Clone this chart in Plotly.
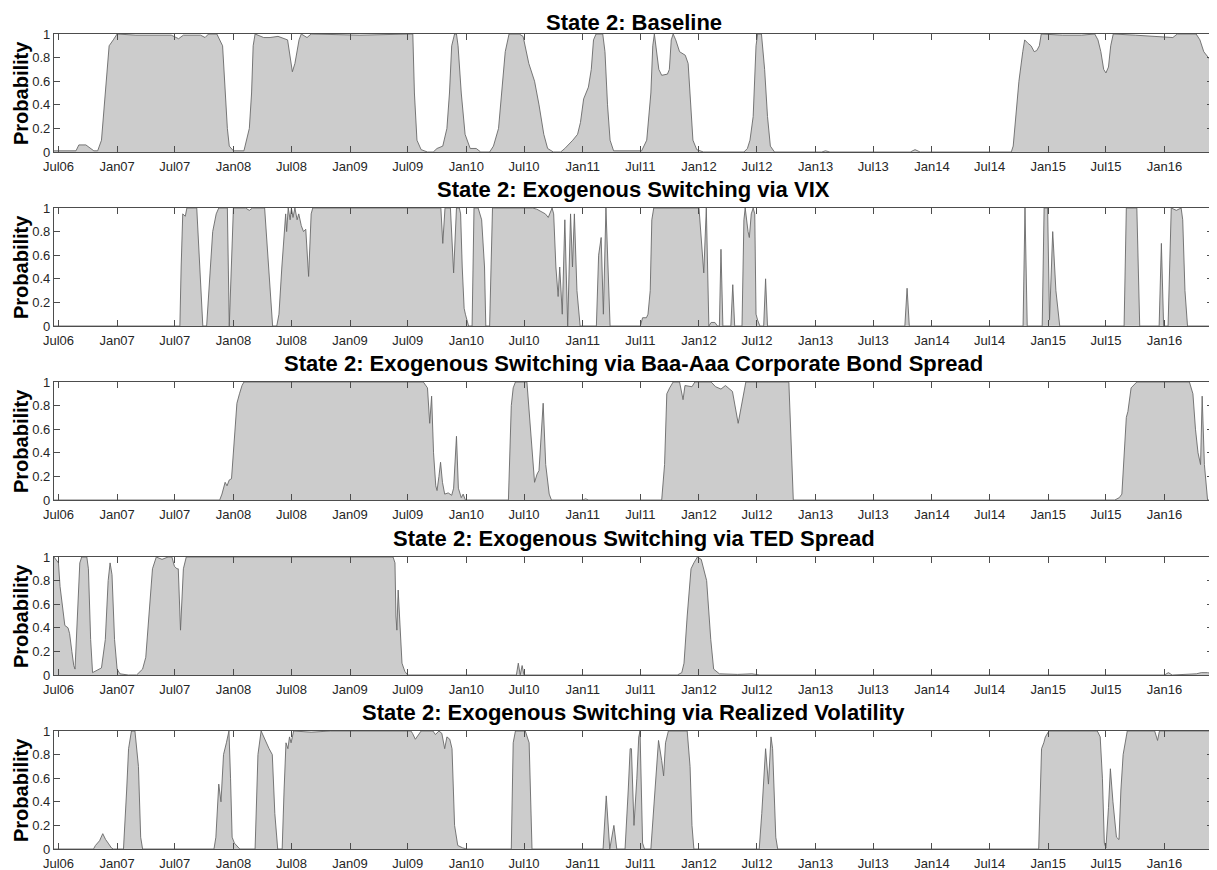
import plotly.graph_objects as go

# ---------------- data ----------------
tick_dates = ["2006-07-01", "2007-01-01", "2007-07-01", "2008-01-01", "2008-07-01",
              "2009-01-01", "2009-07-01", "2010-01-01", "2010-07-01", "2011-01-01",
              "2011-07-01", "2012-01-01", "2012-07-01", "2013-01-01", "2013-07-01",
              "2014-01-01", "2014-07-01", "2015-01-01", "2015-07-01", "2016-01-01"]
tick_labels = ["Jul06", "Jan07", "Jul07", "Jan08", "Jul08", "Jan09", "Jul09", "Jan10",
               "Jul10", "Jan11", "Jul11", "Jan12", "Jul12", "Jan13", "Jul13", "Jan14",
               "Jul14", "Jan15", "Jul15", "Jan16"]
prob_ticks = [0, 0.2, 0.4, 0.6, 0.8, 1]
prob_labels = ["0", "0.2", "0.4", "0.6", "0.8", "1"]
date_range = ["2006-06-17", "2016-06-01"]

titles = ["State 2: Baseline",
          "State 2: Exogenous Switching via VIX",
          "State 2: Exogenous Switching via Baa-Aaa Corporate Bond Spread",
          "State 2: Exogenous Switching via TED Spread",
          "State 2: Exogenous Switching via Realized Volatility"]
y_label = "Probability"

baseline = [
    ("2006-06-17", 0.01), ("2006-08-25", 0.01), ("2006-09-03", 0.06), ("2006-09-25", 0.06),
    ("2006-10-20", 0.01), ("2006-11-01", 0.01), ("2006-11-13", 0.1), ("2006-11-22", 0.4),
    ("2006-12-01", 0.75), ("2006-12-07", 0.9), ("2006-12-20", 0.95), ("2007-01-01", 1.0),
    ("2007-03-01", 0.99), ("2007-06-20", 0.99), ("2007-07-13", 0.96), ("2007-07-28", 0.99),
    ("2007-09-20", 0.99), ("2007-10-04", 0.97), ("2007-10-15", 1.0), ("2007-11-10", 1.0),
    ("2007-11-28", 0.9), ("2007-12-07", 0.5), ("2007-12-13", 0.2), ("2007-12-19", 0.05),
    ("2008-01-01", 0.01), ("2008-02-03", 0.01), ("2008-02-10", 0.1), ("2008-02-20", 0.2),
    ("2008-02-27", 0.5), ("2008-03-03", 0.9), ("2008-03-09", 1.0), ("2008-04-05", 0.97),
    ("2008-04-25", 0.97), ("2008-05-20", 0.98), ("2008-06-19", 0.95), ("2008-06-26", 0.8),
    ("2008-07-04", 0.68), ("2008-07-12", 0.75), ("2008-07-25", 0.95), ("2008-08-01", 1.0),
    ("2008-08-19", 0.97), ("2008-09-01", 1.0), ("2009-02-01", 0.99), ("2009-07-10", 1.0),
    ("2009-07-17", 1.0), ("2009-07-22", 0.5), ("2009-07-30", 0.1), ("2009-08-12", 0.02),
    ("2009-09-01", 0.0), ("2009-09-19", 0.0), ("2009-10-01", 0.03), ("2009-10-19", 0.05),
    ("2009-11-01", 0.2), ("2009-11-09", 0.5), ("2009-11-16", 0.9), ("2009-11-25", 1.0),
    ("2009-12-01", 1.0), ("2009-12-06", 0.9), ("2009-12-16", 0.5), ("2009-12-28", 0.15),
    ("2010-01-13", 0.03), ("2010-02-01", 0.03), ("2010-02-15", 0.0), ("2010-03-15", 0.0),
    ("2010-03-27", 0.05), ("2010-04-12", 0.2), ("2010-04-21", 0.5), ("2010-05-03", 0.85),
    ("2010-05-15", 1.0), ("2010-06-16", 1.0), ("2010-06-28", 0.98), ("2010-07-16", 0.75),
    ("2010-08-03", 0.6), ("2010-08-17", 0.4), ("2010-09-01", 0.15), ("2010-09-13", 0.03),
    ("2010-10-01", 0.0), ("2010-10-24", 0.0), ("2010-11-06", 0.03), ("2010-11-18", 0.06),
    ("2010-12-01", 0.1), ("2010-12-16", 0.15), ("2010-12-25", 0.25), ("2011-01-04", 0.45),
    ("2011-01-19", 0.55), ("2011-01-28", 0.7), ("2011-02-04", 0.95), ("2011-02-12", 1.0),
    ("2011-03-05", 1.0), ("2011-03-12", 0.85), ("2011-03-20", 0.4), ("2011-03-28", 0.1),
    ("2011-04-08", 0.01), ("2011-07-05", 0.01), ("2011-07-21", 0.1), ("2011-08-03", 0.5),
    ("2011-08-09", 0.9), ("2011-08-14", 1.0), ("2011-08-28", 0.7), ("2011-09-06", 0.65),
    ("2011-09-24", 0.66), ("2011-09-30", 0.7), ("2011-10-06", 0.95), ("2011-10-12", 1.0),
    ("2011-10-20", 0.95), ("2011-11-01", 0.85), ("2011-11-19", 0.82), ("2011-11-28", 0.75),
    ("2011-12-05", 0.4), ("2011-12-13", 0.1), ("2011-12-25", 0.02), ("2012-01-15", 0.0),
    ("2012-05-21", 0.0), ("2012-06-01", 0.03), ("2012-06-09", 0.1), ("2012-06-19", 0.3),
    ("2012-06-28", 0.9), ("2012-07-03", 1.0), ("2012-07-15", 1.0), ("2012-07-25", 0.7),
    ("2012-08-03", 0.3), ("2012-08-12", 0.05), ("2012-08-25", 0.0), ("2013-01-20", 0.0),
    ("2013-02-01", 0.01), ("2013-02-15", 0.0), ("2013-10-25", 0.0), ("2013-11-09", 0.02),
    ("2013-11-25", 0.0), ("2014-09-07", 0.0), ("2014-09-13", 0.05), ("2014-09-22", 0.3),
    ("2014-10-01", 0.6), ("2014-10-13", 0.85), ("2014-10-19", 0.95), ("2014-10-30", 0.92),
    ("2014-11-08", 0.9), ("2014-11-18", 0.85), ("2014-11-26", 0.86), ("2014-12-04", 0.9),
    ("2014-12-10", 1.0), ("2015-02-15", 0.99), ("2015-04-15", 0.99), ("2015-05-27", 1.0),
    ("2015-06-06", 0.95), ("2015-06-15", 0.85), ("2015-06-24", 0.7), ("2015-07-01", 0.67),
    ("2015-07-09", 0.72), ("2015-07-16", 0.9), ("2015-07-24", 1.0), ("2015-10-01", 0.99),
    ("2015-12-15", 0.98), ("2016-01-27", 0.97), ("2016-02-10", 1.0), ("2016-04-09", 1.0),
    ("2016-04-21", 0.95), ("2016-05-03", 0.85), ("2016-06-01", 0.75),
]

vix = [
    ("2006-06-17", 0.0), ("2007-07-17", 0.0), ("2007-07-21", 0.5), ("2007-07-26", 0.95),
    ("2007-08-03", 0.93), ("2007-08-08", 1.0), ("2007-09-08", 1.0), ("2007-09-18", 0.5),
    ("2007-09-27", 0.0), ("2007-10-09", 0.0), ("2007-10-18", 0.4), ("2007-10-28", 0.8),
    ("2007-11-08", 0.95), ("2007-11-16", 1.0), ("2007-12-13", 1.0), ("2007-12-19", 0.0),
    ("2008-01-01", 1.0), ("2008-02-08", 1.0), ("2008-02-20", 0.98), ("2008-03-01", 1.0),
    ("2008-04-08", 1.0), ("2008-04-21", 0.5), ("2008-05-03", 0.0), ("2008-05-16", 0.0),
    ("2008-05-23", 0.1), ("2008-06-01", 0.5), ("2008-06-08", 0.8), ("2008-06-13", 0.95),
    ("2008-06-16", 0.8), ("2008-06-21", 1.0), ("2008-06-27", 0.9), ("2008-07-01", 1.0),
    ("2008-07-06", 0.92), ("2008-07-12", 1.0), ("2008-07-19", 0.9), ("2008-07-24", 0.95),
    ("2008-08-01", 0.85), ("2008-08-08", 0.8), ("2008-08-15", 0.82), ("2008-08-24", 0.42),
    ("2008-09-01", 0.95), ("2008-09-06", 1.0), ("2009-10-13", 1.0), ("2009-10-19", 0.7),
    ("2009-10-26", 1.0), ("2009-11-12", 1.0), ("2009-11-22", 0.45), ("2009-12-01", 1.0),
    ("2009-12-10", 1.0), ("2009-12-14", 0.95), ("2009-12-19", 0.5), ("2009-12-25", 0.15),
    ("2009-12-29", 0.1), ("2010-01-03", 0.05), ("2010-01-08", 0.0), ("2010-01-19", 0.0),
    ("2010-01-25", 1.0), ("2010-02-07", 1.0), ("2010-02-18", 0.9), ("2010-02-27", 0.5),
    ("2010-03-03", 0.0), ("2010-03-15", 0.0), ("2010-03-24", 1.0), ("2010-07-28", 1.0),
    ("2010-08-10", 0.99), ("2010-09-06", 0.95), ("2010-09-15", 0.92), ("2010-09-27", 1.0),
    ("2010-10-02", 0.95), ("2010-10-09", 0.5), ("2010-10-16", 0.25), ("2010-10-21", 0.5),
    ("2010-10-24", 0.35), ("2010-10-29", 0.1), ("2010-11-06", 0.9), ("2010-11-12", 0.3),
    ("2010-11-15", 0.0), ("2010-11-24", 0.95), ("2010-11-30", 0.5), ("2010-12-06", 0.95),
    ("2010-12-14", 0.3), ("2010-12-24", 0.0), ("2011-02-13", 0.0), ("2011-02-20", 0.6),
    ("2011-02-28", 0.75), ("2011-03-07", 0.1), ("2011-03-15", 1.0), ("2011-03-28", 0.0),
    ("2011-07-01", 0.0), ("2011-07-08", 0.07), ("2011-07-20", 0.07), ("2011-07-25", 0.1),
    ("2011-08-01", 0.3), ("2011-08-06", 0.9), ("2011-08-12", 1.0), ("2012-01-01", 1.0),
    ("2012-01-16", 0.45), ("2012-01-24", 1.0), ("2012-02-01", 0.0), ("2012-02-08", 0.03),
    ("2012-02-20", 0.03), ("2012-02-28", 0.0), ("2012-03-05", 0.0), ("2012-03-10", 0.65),
    ("2012-03-16", 0.0), ("2012-04-10", 0.0), ("2012-04-16", 0.35), ("2012-04-22", 0.0),
    ("2012-05-15", 0.0), ("2012-05-21", 0.9), ("2012-05-25", 1.0), ("2012-06-03", 0.8),
    ("2012-06-07", 0.75), ("2012-06-13", 0.95), ("2012-06-19", 1.0), ("2012-06-24", 0.95),
    ("2012-06-28", 0.1), ("2012-07-03", 0.05), ("2012-07-10", 0.0), ("2012-07-22", 0.0),
    ("2012-07-28", 0.4), ("2012-08-03", 0.0), ("2013-10-08", 0.0), ("2013-10-15", 0.32),
    ("2013-10-22", 0.0), ("2014-10-14", 0.0), ("2014-10-20", 1.0), ("2014-10-27", 0.0),
    ("2014-12-13", 0.0), ("2014-12-19", 1.0), ("2014-12-30", 1.0), ("2015-01-05", 0.05),
    ("2015-01-15", 0.8), ("2015-01-25", 0.3), ("2015-02-06", 0.0), ("2015-08-27", 0.0),
    ("2015-09-03", 1.0), ("2015-10-06", 1.0), ("2015-10-15", 0.0), ("2015-12-15", 0.0),
    ("2015-12-22", 0.7), ("2015-12-29", 0.0), ("2016-01-12", 0.0), ("2016-01-22", 1.0),
    ("2016-02-07", 0.98), ("2016-02-22", 1.0), ("2016-02-27", 0.9), ("2016-03-05", 0.3),
    ("2016-03-13", 0.0), ("2016-06-01", 0.0),
]

baa_aaa = [
    ("2006-06-17", 0.0), ("2007-11-19", 0.0), ("2007-11-26", 0.05), ("2007-12-06", 0.15),
    ("2007-12-12", 0.12), ("2007-12-19", 0.17), ("2007-12-26", 0.18), ("2008-01-04", 0.5),
    ("2008-01-12", 0.82), ("2008-01-20", 0.9), ("2008-01-28", 0.97), ("2008-02-03", 1.0),
    ("2009-08-19", 1.0), ("2009-09-01", 0.95), ("2009-09-08", 0.65), ("2009-09-14", 0.88),
    ("2009-09-20", 0.4), ("2009-09-27", 0.12), ("2009-10-01", 0.08), ("2009-10-07", 0.2),
    ("2009-10-12", 0.32), ("2009-10-18", 0.15), ("2009-10-25", 0.05), ("2009-11-05", 0.06),
    ("2009-11-16", 0.04), ("2009-11-22", 0.1), ("2009-12-01", 0.54), ("2009-12-07", 0.1),
    ("2009-12-16", 0.02), ("2009-12-22", 0.05), ("2009-12-29", 0.0), ("2010-05-13", 0.0),
    ("2010-05-22", 0.8), ("2010-05-28", 0.95), ("2010-06-04", 1.0), ("2010-07-10", 1.0),
    ("2010-07-22", 0.6), ("2010-08-03", 0.15), ("2010-08-11", 0.22), ("2010-08-17", 0.25),
    ("2010-08-30", 0.82), ("2010-09-07", 0.3), ("2010-09-18", 0.05), ("2010-09-25", 0.0),
    ("2011-01-01", 0.0), ("2011-01-10", 0.01), ("2011-01-20", 0.0), ("2011-09-06", 0.0),
    ("2011-09-15", 0.3), ("2011-09-22", 0.9), ("2011-10-01", 0.95), ("2011-10-12", 1.0),
    ("2011-11-01", 1.0), ("2011-11-12", 0.85), ("2011-11-18", 0.97), ("2011-12-10", 0.96),
    ("2011-12-19", 1.0), ("2012-02-08", 1.0), ("2012-02-22", 0.96), ("2012-03-10", 0.94),
    ("2012-03-24", 0.97), ("2012-04-15", 0.92), ("2012-05-03", 0.65), ("2012-05-13", 0.8),
    ("2012-05-27", 1.0), ("2012-10-09", 1.0), ("2012-10-23", 0.0), ("2015-07-29", 0.0),
    ("2015-08-12", 0.02), ("2015-08-20", 0.05), ("2015-09-03", 0.7), ("2015-09-08", 0.75),
    ("2015-09-18", 0.95), ("2015-10-06", 1.0), ("2016-03-19", 1.0), ("2016-03-30", 0.9),
    ("2016-04-07", 0.6), ("2016-04-15", 0.4), ("2016-04-23", 0.3), ("2016-04-28", 0.88),
    ("2016-05-05", 0.3), ("2016-05-15", 0.0), ("2016-06-01", 0.0),
]

ted = [
    ("2006-06-17", 1.0), ("2006-07-01", 0.95), ("2006-07-06", 0.75), ("2006-07-16", 0.55),
    ("2006-07-21", 0.42), ("2006-07-31", 0.4), ("2006-08-05", 0.35), ("2006-08-12", 0.2),
    ("2006-08-18", 0.08), ("2006-08-22", 0.05), ("2006-08-30", 0.5), ("2006-09-06", 0.95),
    ("2006-09-12", 1.0), ("2006-09-28", 1.0), ("2006-10-03", 0.9), ("2006-10-10", 0.3),
    ("2006-10-16", 0.02), ("2006-11-01", 0.04), ("2006-11-13", 0.06), ("2006-11-25", 0.3),
    ("2006-12-04", 0.8), ("2006-12-10", 0.95), ("2006-12-16", 0.85), ("2006-12-24", 0.3),
    ("2007-01-01", 0.05), ("2007-01-10", 0.01), ("2007-02-05", 0.0), ("2007-03-03", 0.0),
    ("2007-03-10", 0.02), ("2007-03-22", 0.05), ("2007-04-01", 0.15), ("2007-04-10", 0.5),
    ("2007-04-22", 0.9), ("2007-05-04", 1.0), ("2007-05-22", 0.98), ("2007-06-10", 1.0),
    ("2007-06-22", 1.0), ("2007-06-30", 0.92), ("2007-07-08", 0.9), ("2007-07-12", 0.9),
    ("2007-07-19", 0.38), ("2007-07-28", 0.9), ("2007-08-06", 1.0), ("2009-05-16", 1.0),
    ("2009-05-22", 0.95), ("2009-05-25", 0.5), ("2009-05-28", 0.38), ("2009-06-01", 0.72),
    ("2009-06-07", 0.4), ("2009-06-13", 0.1), ("2009-06-22", 0.03), ("2009-07-01", 0.0),
    ("2010-06-07", 0.0), ("2010-06-13", 0.1), ("2010-06-19", 0.0), ("2010-06-25", 0.08),
    ("2010-07-01", 0.0), ("2011-10-25", 0.0), ("2011-11-08", 0.02), ("2011-11-15", 0.1),
    ("2011-11-25", 0.5), ("2011-12-07", 0.9), ("2011-12-16", 0.95), ("2011-12-27", 1.0),
    ("2012-01-08", 0.98), ("2012-01-25", 0.8), ("2012-02-07", 0.3), ("2012-02-16", 0.05),
    ("2012-03-05", 0.01), ("2012-05-01", 0.005), ("2012-06-15", 0.01), ("2012-07-10", 0.0),
    ("2016-01-01", 0.0), ("2016-01-13", 0.02), ("2016-01-25", 0.0), ("2016-04-10", 0.01),
    ("2016-04-25", 0.02), ("2016-05-15", 0.02), ("2016-06-01", 0.01),
]

realized_vol = [
    ("2006-06-17", 0.0), ("2006-10-19", 0.0), ("2006-10-25", 0.03), ("2006-11-07", 0.07),
    ("2006-11-17", 0.13), ("2006-11-26", 0.08), ("2006-12-04", 0.05), ("2006-12-14", 0.01),
    ("2006-12-20", 0.0), ("2007-01-21", 0.0), ("2007-01-31", 0.5), ("2007-02-06", 0.85),
    ("2007-02-15", 1.0), ("2007-02-26", 1.0), ("2007-03-09", 0.7), ("2007-03-16", 0.1),
    ("2007-03-22", 0.0), ("2007-11-01", 0.0), ("2007-11-07", 0.1), ("2007-11-16", 0.55),
    ("2007-11-23", 0.4), ("2007-12-01", 0.8), ("2007-12-10", 0.9), ("2007-12-18", 1.0),
    ("2007-12-23", 0.6), ("2007-12-28", 0.1), ("2008-01-04", 0.05), ("2008-01-12", 0.03),
    ("2008-01-21", 0.0), ("2008-03-09", 0.0), ("2008-03-18", 0.8), ("2008-03-28", 1.0),
    ("2008-04-12", 0.9), ("2008-04-22", 0.85), ("2008-05-02", 0.8), ("2008-05-10", 0.3),
    ("2008-05-19", 0.0), ("2008-06-02", 0.0), ("2008-06-08", 0.5), ("2008-06-14", 0.9),
    ("2008-06-20", 0.85), ("2008-06-25", 0.95), ("2008-06-30", 0.9), ("2008-07-08", 1.0),
    ("2008-09-01", 0.99), ("2008-11-01", 1.0), ("2009-07-11", 1.0), ("2009-07-16", 0.98),
    ("2009-07-25", 0.93), ("2009-08-05", 0.98), ("2009-08-12", 1.0), ("2009-09-18", 1.0),
    ("2009-09-26", 0.97), ("2009-10-07", 1.0), ("2009-10-16", 0.98), ("2009-10-25", 0.85),
    ("2009-11-01", 0.95), ("2009-11-10", 0.93), ("2009-11-17", 0.85), ("2009-11-25", 0.2),
    ("2009-12-05", 0.03), ("2009-12-20", 0.01), ("2010-01-02", 0.0), ("2010-05-22", 0.0),
    ("2010-05-28", 0.9), ("2010-06-04", 1.0), ("2010-07-05", 1.0), ("2010-07-17", 0.9),
    ("2010-07-26", 0.0), ("2011-03-06", 0.0), ("2011-03-16", 0.45), ("2011-03-27", 0.0),
    ("2011-04-09", 0.2), ("2011-04-18", 0.0), ("2011-05-14", 0.0), ("2011-05-24", 0.5),
    ("2011-05-30", 0.85), ("2011-06-03", 0.85), ("2011-06-11", 0.2), ("2011-06-20", 0.6),
    ("2011-06-26", 0.95), ("2011-06-30", 1.0), ("2011-07-08", 0.05), ("2011-07-14", 0.0),
    ("2011-08-03", 0.0), ("2011-08-16", 0.5), ("2011-08-27", 0.92), ("2011-09-06", 0.75),
    ("2011-09-12", 0.62), ("2011-09-18", 0.9), ("2011-09-27", 1.0), ("2011-11-25", 1.0),
    ("2011-12-04", 0.7), ("2011-12-10", 0.2), ("2011-12-16", 0.0), ("2012-07-08", 0.0),
    ("2012-07-16", 0.3), ("2012-07-28", 0.85), ("2012-08-06", 0.55), ("2012-08-14", 0.95),
    ("2012-08-19", 0.85), ("2012-08-29", 0.1), ("2012-09-04", 0.0), ("2014-12-02", 0.0),
    ("2014-12-11", 0.85), ("2014-12-18", 0.9), ("2014-12-23", 0.95), ("2015-01-03", 1.0),
    ("2015-06-04", 1.0), ("2015-06-13", 0.95), ("2015-06-20", 0.6), ("2015-06-26", 0.05),
    ("2015-07-01", 0.01), ("2015-07-09", 0.35), ("2015-07-15", 0.68), ("2015-07-23", 0.4),
    ("2015-08-03", 0.1), ("2015-08-11", 0.08), ("2015-08-17", 0.5), ("2015-08-24", 0.8),
    ("2015-08-30", 0.9), ("2015-09-06", 1.0), ("2015-12-01", 1.0), ("2015-12-10", 0.92),
    ("2015-12-16", 1.0), ("2016-06-01", 1.0),
]

# ---------------- figure ----------------
W, H = 1217, 870
PAGE_OFFSET = 8            # the page places the figure 8 px in from the top-left corner
panel_tops = [t - PAGE_OFFSET for t in (34, 208, 382, 557, 731)]
panel_h = 118
x_left, x_right = 54 - PAGE_OFFSET, 1213 - PAGE_OFFSET

fill_col = "rgb(204,204,204)"
edge_col = "rgb(105,105,105)"
axis_col = "rgb(77,77,77)"
text_col = "rgb(38,38,38)"
font_family = "Liberation Sans, Arial, Helvetica, sans-serif"

series = [baseline, vix, baa_aaa, ted, realized_vol]

fig = go.Figure()
annotations = []
xd = [x_left / W, x_right / W]
for i, s in enumerate(series):
    dates = [d for d, _ in s]
    probs = [p for _, p in s]
    k = "" if i == 0 else str(i + 1)
    fig.add_trace(go.Scatter(
        x=dates, y=probs, xaxis="x" + k, yaxis="y" + k, mode="lines",
        fill="tozeroy", fillcolor=fill_col,
        line=dict(color=edge_col, width=0.9),
        hoverinfo="skip", showlegend=False))
    top = panel_tops[i]
    yd = [1 - (top + panel_h) / H, 1 - top / H]
    fig.layout["xaxis" + k] = dict(
        domain=xd, anchor="y" + k, type="date", range=date_range,
        tickmode="array", tickvals=tick_dates, ticktext=tick_labels,
        ticks="inside", ticklen=6, tickwidth=1.2, tickcolor=axis_col,
        ticklabelstandoff=2,
        showline=True, linecolor=axis_col, linewidth=1.2, mirror="ticks",
        showgrid=False, zeroline=False, automargin=False,
        tickfont=dict(family=font_family, size=13, color=text_col))
    fig.layout["yaxis" + k] = dict(
        domain=yd, anchor="x" + k, range=[0, 1],
        tickmode="array", tickvals=prob_ticks, ticktext=prob_labels,
        ticks="inside", ticklen=6, tickwidth=1.2, tickcolor=axis_col,
        showline=True, linecolor=axis_col, linewidth=1.2, mirror="ticks",
        showgrid=False, zeroline=False, automargin=False,
        tickfont=dict(family=font_family, size=13, color=text_col))
    if i == 0:
        # keep the first title fully inside the page: hang it from the top edge
        title_y, title_anchor = 1.0, "top"
    else:
        title_y, title_anchor = 1 - (top - 4) / H, "bottom"
    annotations.append(dict(
        text=titles[i], xref="paper", yref="paper",
        x=(xd[0] + xd[1]) / 2, y=title_y,
        xanchor="center", yanchor=title_anchor, showarrow=False,
        font=dict(family=font_family, size=22, color="black", weight="bold")))
    annotations.append(dict(
        text=y_label, xref="paper", yref="paper",
        x=0.0, y=(yd[0] + yd[1]) / 2, textangle=-90,
        xanchor="left", yanchor="middle", showarrow=False,
        font=dict(family=font_family, size=20, color="black", weight="bold")))

fig.update_layout(
    width=W, height=H, margin=dict(l=0, r=0, t=0, b=0, autoexpand=False),
    paper_bgcolor="white", plot_bgcolor="white",
    annotations=annotations, showlegend=False)

fig.write_html("out.html")
